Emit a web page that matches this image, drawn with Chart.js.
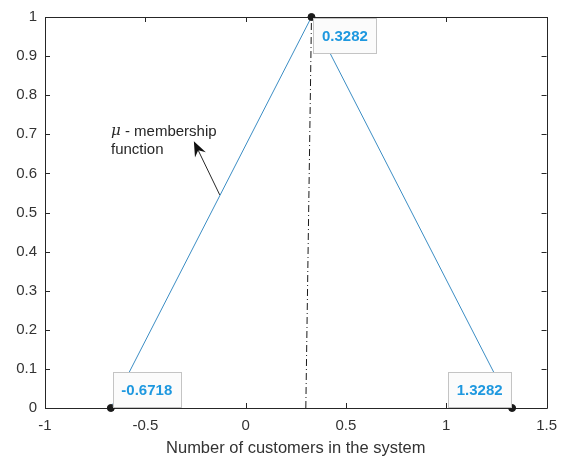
<!DOCTYPE html>
<html>
<head>
<meta charset="utf-8">
<script src="https://cdn.jsdelivr.net/npm/chart.js@4.4.0/dist/chart.umd.min.js"></script>
<style>
  html, body { margin: 0; padding: 0; background: #fff; }
  #wrap { width: 566px; height: 461px; }
</style>
</head>
<body>
<div id="wrap"><canvas id="myChart-Membership" width="566" height="461"></canvas></div>
<script>
const customers = [-0.6718, 0.3282, 1.3282];
const membership = [0, 1, 0];
const centerX = [0.3, 0.3282];
const centerY = [0, 1];
const xTicks = [-1, -0.5, 0, 0.5, 1, 1.5];
const yTicks = [0, 0.1, 0.2, 0.3, 0.4, 0.5, 0.6, 0.7, 0.8, 0.9, 1];
const tipLabels = ['-0.6718', '0.3282', '1.3282'];

const axisColor = '#262626';
const fontFamily = '"Liberation Sans", Arial, Helvetica, sans-serif';

// axes box with inward ticks on all four sides (matlab style)
const boxPlugin = {
  id: 'box',
  beforeDatasetsDraw(chart) {
    const { ctx, chartArea: a, scales: { x, y } } = chart;
    ctx.save();
    ctx.strokeStyle = axisColor;
    ctx.lineWidth = 1;
    ctx.beginPath();
    ctx.rect(Math.round(a.left) + 0.5, Math.round(a.top) + 0.5, Math.round(a.right - a.left), Math.round(a.bottom - a.top));
    xTicks.forEach(v => {
      const px = Math.round(x.getPixelForValue(v)) + 0.5;
      ctx.moveTo(px, a.bottom); ctx.lineTo(px, a.bottom - 5);
      ctx.moveTo(px, a.top); ctx.lineTo(px, a.top + 5);
    });
    yTicks.forEach(v => {
      const py = Math.round(y.getPixelForValue(v)) + 0.5;
      ctx.moveTo(a.left, py); ctx.lineTo(a.left + 5, py);
      ctx.moveTo(a.right, py); ctx.lineTo(a.right - 5, py);
    });
    ctx.stroke();
    ctx.restore();
  },
  afterDatasetsDraw(chart) {
    const { ctx, scales: { x, y } } = chart;
    ctx.save();

    // data tips
    ctx.font = 'bold 15px ' + fontFamily;
    ctx.textAlign = 'center';
    ctx.textBaseline = 'middle';
    const place = ['ne', 'se', 'nw'];
    customers.forEach((cx, i) => {
      const px = x.getPixelForValue(cx);
      const py = y.getPixelForValue(membership[i]);
      const w = ctx.measureText(tipLabels[i]).width + 17;
      const h = 35;
      const left = place[i].includes('e') ? px + 2 : px - w - 1;
      const top = place[i].includes('s') ? py + 1 : py - h - 1;
      ctx.fillStyle = '#fbfbfb';
      ctx.fillRect(left, top, w, h);
      ctx.strokeStyle = '#c4c4c4';
      ctx.lineWidth = 1;
      ctx.strokeRect(Math.round(left) + 0.5, Math.round(top) + 0.5, Math.round(w), Math.round(h));
      ctx.fillStyle = '#1e98df';
      ctx.fillText(tipLabels[i], left + w / 2, top + h / 2 + 1);
    });

    // annotation text
    const tx = x.getPixelForValue(-0.671);
    ctx.fillStyle = axisColor;
    ctx.textAlign = 'left';
    ctx.font = 'italic 15px "DejaVu Serif", "Liberation Serif", serif';
    ctx.fillText('\u03bc', tx, y.getPixelForValue(0.707));
    const muW = ctx.measureText('\u03bc').width;
    ctx.font = '15px ' + fontFamily;
    ctx.fillText(' - membership', tx + muW, y.getPixelForValue(0.707));
    ctx.fillText('function', tx, y.getPixelForValue(0.659));

    // arrow
    const x0 = x.getPixelForValue(-0.129), y0 = y.getPixelForValue(0.545);
    const x1 = x.getPixelForValue(-0.258), y1 = y.getPixelForValue(0.682);
    const ang = Math.atan2(y1 - y0, x1 - x0);
    ctx.strokeStyle = axisColor;
    ctx.lineWidth = 1;
    ctx.beginPath();
    ctx.moveTo(x0, y0);
    ctx.lineTo(x1 - 8 * Math.cos(ang), y1 - 8 * Math.sin(ang));
    ctx.stroke();
    ctx.fillStyle = '#111';
    ctx.beginPath();
    ctx.moveTo(x1, y1);
    ctx.lineTo(x1 - 15 * Math.cos(ang) + 6 * Math.sin(ang), y1 - 15 * Math.sin(ang) - 6 * Math.cos(ang));
    ctx.lineTo(x1 - 10 * Math.cos(ang), y1 - 10 * Math.sin(ang));
    ctx.lineTo(x1 - 15 * Math.cos(ang) - 6 * Math.sin(ang), y1 - 15 * Math.sin(ang) + 6 * Math.cos(ang));
    ctx.closePath();
    ctx.fill();
    ctx.restore();
  }
};

const fmt = v => String(Math.round(v * 10) / 10);

new Chart(document.getElementById('myChart-Membership'), {
  type: 'scatter',
  data: {
    datasets: [
      {
        label: 'mu',
        data: customers.map((v, i) => ({ x: v, y: membership[i] })),
        showLine: true,
        borderColor: '#3b8dc4',
        borderWidth: 1,
        pointRadius: 0,
        clip: false,
        order: 2
      },
      {
        label: 'center',
        data: centerX.map((v, i) => ({ x: v, y: centerY[i] })),
        showLine: true,
        borderColor: '#1a1a1a',
        borderWidth: 1,
        borderDash: [7, 3, 1, 3],
        pointRadius: 0,
        clip: false,
        order: 1
      },
      {
        label: 'tips',
        data: customers.map((v, i) => ({ x: v, y: membership[i] })),
        showLine: false,
        pointRadius: 3.5,
        pointBackgroundColor: '#1a1a1a',
        pointBorderColor: '#1a1a1a',
        clip: false,
        order: 0
      }
    ]
  },
  options: {
    responsive: false,
    animation: false,
    layout: { padding: { left: 0, top: 12, right: 18, bottom: 0 } },
    plugins: {
      legend: { display: false },
      tooltip: { enabled: false }
    },
    scales: {
      x: {
        type: 'linear',
        min: -1,
        max: 1.5,
        afterBuildTicks: s => { s.ticks = xTicks.map(v => ({ value: v })); },
        afterFit: s => { s.height = 53; },
        grid: { display: false, drawTicks: false },
        border: { display: false },
        ticks: {
          callback: fmt,
          color: '#333',
          padding: 9,
          maxRotation: 0,
          autoSkip: false,
          font: { family: fontFamily, size: 15 }
        },
        title: {
          display: true,
          text: 'Number of customers in the system',
          color: '#333',
          padding: { top: 0, bottom: 3 },
          font: { family: fontFamily, size: 16.5 }
        }
      },
      y: {
        type: 'linear',
        min: 0,
        max: 1,
        afterBuildTicks: s => { s.ticks = yTicks.map(v => ({ value: v })); },
        afterFit: s => { s.width = 45; },
        grid: { display: false, drawTicks: false },
        border: { display: false },
        ticks: {
          callback: fmt,
          color: '#333',
          padding: 8,
          autoSkip: false,
          font: { family: fontFamily, size: 15 }
        }
      }
    }
  },
  plugins: [boxPlugin]
});
</script>
</body>
</html>
